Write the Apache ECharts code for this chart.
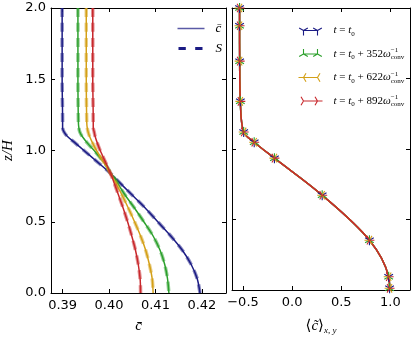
<!DOCTYPE html>
<html>
<head>
<meta charset="utf-8">
<script src="https://cdn.jsdelivr.net/npm/echarts@6/dist/echarts.min.js"></script>
<style>
html, body { margin: 0; background: #fff; }
#chart { width: 415px; height: 340px; }
</style>
</head>
<body>
<div id="chart"></div>
<script>
// heights z/H shared by the four mean profiles (left panel)
const zLevels  = [2.0, 1.5, 1.2, 1.16, 1.13, 1.1, 1.05, 1.0, 0.9, 0.84, 0.8, 0.7, 0.6, 0.5, 0.4, 0.3, 0.2, 0.1, 0.0];
const cBarT0   = [0.3899, 0.3899, 0.3900, 0.3900, 0.3903, 0.3910, 0.3928, 0.3946, 0.3982, 0.4003, 0.4015, 0.4046, 0.4077, 0.4105, 0.4133, 0.4158, 0.4177, 0.4190, 0.4196];
const cBarT352 = [0.3933, 0.3933, 0.3934, 0.3935, 0.3937, 0.3942, 0.3954, 0.3968, 0.3993, 0.4004, 0.4013, 0.4032, 0.4054, 0.4075, 0.4095, 0.4110, 0.4120, 0.4126, 0.4129];
const cBarT622 = [0.3951, 0.3951, 0.3952, 0.3953, 0.3955, 0.3958, 0.3965, 0.3973, 0.3992, 0.4003, 0.4010, 0.4026, 0.4041, 0.4055, 0.4068, 0.4079, 0.4087, 0.4093, 0.4095];
const cBarT892 = [0.3965, 0.3965, 0.3966, 0.3966, 0.3968, 0.3970, 0.3975, 0.3981, 0.3995, 0.4003, 0.4008, 0.4019, 0.4030, 0.4040, 0.4049, 0.4057, 0.4063, 0.4067, 0.4068];

// normalised profile <c~>_{x,y} (right panel), the four times lie on top of each other
const profileZ = [2.0, 1.874, 1.623, 1.338, 1.121, 1.048, 0.935, 0.672, 0.353, 0.094, 0.012];
const profileC = [-0.535, -0.535, -0.534, -0.527, -0.493, -0.386, -0.18, 0.306, 0.787, 0.983, 0.992];

const yTicks = [0, 0.5, 1.0, 1.5, 2.0];
const xTicksLeft = [0.39, 0.40, 0.41, 0.42];
const xTicksRight = [-0.5, 0.0, 0.5, 1.0];
const timeNames = ['t0', 't352', 't622', 't892'];
const timeShift = ['', '352', '622', '892'];

const colors = ['#1b1b84', '#2ca02c', '#d4a017', '#c8282c'];
const mathFont = '"Liberation Serif", "DejaVu Serif", serif';

const pairs = (xs, zs) => xs.map((x, i) => [x, zs[i]]);

// tri markers, bbox kept symmetric so the centre stays on the point
const box = 'M-10,-10L-10,-10M10,10L10,10';
const triMarks = [
  'path://M0,0L0,10M0,0L-8.66,-5M0,0L8.66,-5' + box,   // tri_down
  'path://M0,0L0,-10M0,0L-8.66,5M0,0L8.66,5' + box,    // tri_up
  'path://M0,0L-10,0M0,0L5,-8.66M0,0L5,8.66' + box,    // tri_left
  'path://M0,0L10,0M0,0L-5,-8.66M0,0L-5,8.66' + box    // tri_right
];
// legend handle: a line with a marker at each end
function triIcon(k) {
  let p = 'path://M0,0L0,0M24,10L24,10M5,5L19,5';
  [5, 19].forEach(cx => {
    if (k === 0) p += `M${cx},5L${cx},10M${cx},5L${cx - 4.33},2.5M${cx},5L${cx + 4.33},2.5`;
    if (k === 1) p += `M${cx},5L${cx},0M${cx},5L${cx - 4.33},7.5M${cx},5L${cx + 4.33},7.5`;
    if (k === 2) p += `M${cx},5L${cx - 5},5M${cx},5L${cx + 2.5},0.67M${cx},5L${cx + 2.5},9.33`;
    if (k === 3) p += `M${cx},5L${cx + 5},5M${cx},5L${cx - 2.5},0.67M${cx},5L${cx - 2.5},9.33`;
  });
  return p;
}

const frameAxis = {
  axisLine: { show: true, onZero: false, lineStyle: { color: '#000', width: 1 } },
  axisTick: { show: true, inside: true, length: 4, lineStyle: { color: '#000' } },
  splitLine: { show: false }
};
const tickLabel = { color: '#000', fontSize: 13, fontFamily: '"DejaVu Sans"' };

const xAxes = [
  // left panel
  Object.assign({}, frameAxis, {
    type: 'value', gridIndex: 0, position: 'bottom', min: 0.3875, max: 0.4252,
    axisTick: Object.assign({}, frameAxis.axisTick, { customValues: xTicksLeft }),
    axisLabel: Object.assign({}, tickLabel, { customValues: xTicksLeft, margin: 6, formatter: v => v.toFixed(2) }),
    name: 'c\u0304', nameLocation: 'middle', nameGap: 26,
    nameTextStyle: { fontFamily: mathFont, fontStyle: 'italic', fontSize: 15, color: '#000' }
  }),
  Object.assign({}, frameAxis, {
    type: 'value', gridIndex: 0, position: 'top', min: 0.3875, max: 0.4252,
    axisTick: Object.assign({}, frameAxis.axisTick, { customValues: xTicksLeft }),
    axisLabel: { show: false }
  }),
  // right panel
  Object.assign({}, frameAxis, {
    type: 'value', gridIndex: 1, position: 'bottom', min: -0.612, max: 1.2,
    axisTick: Object.assign({}, frameAxis.axisTick, { customValues: xTicksRight }),
    axisLabel: Object.assign({}, tickLabel, { customValues: xTicksRight, margin: 6,
      formatter: v => v.toFixed(1).replace('-', '\u2212') }),
    name: '{a|\u27e8}{c|c\u0303}{a|\u27e9}{b|x, y}', nameLocation: 'middle', nameGap: 27,
    nameTextStyle: {
      color: '#000',
      rich: {
        a: { fontFamily: mathFont, fontSize: 15, lineHeight: 18, color: '#000' },
        c: { fontFamily: mathFont, fontStyle: 'italic', fontSize: 15, lineHeight: 18, color: '#000' },
        b: { fontFamily: mathFont, fontStyle: 'italic', fontSize: 9, lineHeight: 9, verticalAlign: 'bottom', color: '#000' }
      }
    }
  }),
  Object.assign({}, frameAxis, {
    type: 'value', gridIndex: 1, position: 'top', min: -0.612, max: 1.2,
    axisTick: Object.assign({}, frameAxis.axisTick, { customValues: xTicksRight }),
    axisLabel: { show: false }
  })
];

const yAxes = [0, 1].flatMap(g => [
  Object.assign({}, frameAxis, {
    type: 'value', gridIndex: g, position: 'left', min: 0, max: 2,
    axisTick: Object.assign({}, frameAxis.axisTick, { customValues: yTicks }),
    axisLabel: g === 0
      ? Object.assign({}, tickLabel, { customValues: yTicks, margin: 5, formatter: v => v.toFixed(1) })
      : { show: false },
    name: g === 0 ? 'z/H' : '', nameLocation: 'middle', nameGap: 35, nameRotate: 90,
    nameTextStyle: { fontFamily: mathFont, fontStyle: 'italic', fontSize: 15, color: '#000' }
  }),
  Object.assign({}, frameAxis, {
    type: 'value', gridIndex: g, position: 'right', min: 0, max: 2,
    axisTick: Object.assign({}, frameAxis.axisTick, { customValues: yTicks }),
    axisLabel: { show: false }
  })
]);

const series = [];
[cBarT0, cBarT352, cBarT622, cBarT892].forEach((vals, k) => {
  series.push({
    type: 'line', name: k === 0 ? 'cbar' : 'cbar' + k, xAxisIndex: 0, yAxisIndex: 0,
    data: pairs(vals, zLevels), symbol: 'none', smooth: 0.3,
    lineStyle: { color: colors[k], width: 1.5 }
  });
  series.push({
    type: 'line', name: k === 0 ? 'S' : 'S' + k, xAxisIndex: 0, yAxisIndex: 0,
    data: pairs(vals, zLevels), symbol: 'none', smooth: 0.3,
    lineStyle: { color: colors[k], width: 3.5, type: [9, 6], opacity: 0.5 }
  });
});
timeNames.forEach((nm, k) => {
  series.push({
    type: 'line', name: nm, xAxisIndex: 2, yAxisIndex: 2,
    data: pairs(profileC, profileZ), smooth: 0.35,
    symbol: triMarks[k], symbolSize: 10, showSymbol: true,
    lineStyle: { color: colors[k], width: 1.5 },
    itemStyle: { color: 'none', borderColor: colors[k], borderWidth: 1.1 }
  });
});

const richMath = {
  i: { fontFamily: mathFont, fontStyle: 'italic', fontSize: 11, lineHeight: 14, color: '#000' },
  r: { fontFamily: mathFont, fontSize: 11, lineHeight: 14, color: '#000' },
  s: { fontFamily: mathFont, fontSize: 7, lineHeight: 7, verticalAlign: 'bottom', color: '#000' },
  // subscript stacked under the superscript (pulled back by the width of "-1")
  q: { fontFamily: mathFont, fontSize: 7, lineHeight: 7, verticalAlign: 'bottom', color: '#000', padding: [0, 0, 0, -7.5] },
  p: { fontFamily: mathFont, fontSize: 7, lineHeight: 7, verticalAlign: 'top', color: '#000' }
};

const option = {
  animation: false,
  backgroundColor: '#fff',
  grid: [
    { left: 48, top: 8, width: 178, height: 285 },
    { left: 232, top: 8, width: 178, height: 285 }
  ],
  xAxis: xAxes,
  yAxis: yAxes,
  legend: [
    {
      orient: 'vertical', left: 170, top: 17, itemWidth: 27, itemHeight: 8, itemGap: 7,
      selectedMode: false,
      data: [
        { name: 'cbar', icon: 'path://M0,0L0,0M27,8L27,8M0,4L27,4',
          itemStyle: { color: 'none', borderColor: '#5a5aa6', borderWidth: 1.5 } },
        { name: 'S', icon: 'path://M0,0L0,0M27,8L27,8M1,4L8.3,4M17.7,4L25,4',
          itemStyle: { color: 'none', borderColor: colors[0], borderWidth: 3 } }
      ],
      formatter: n => n === 'cbar' ? '{i|c\u0304}' : '{i|S}',
      textStyle: { padding: [0, 0, 0, 6], rich: {
        i: { fontFamily: mathFont, fontStyle: 'italic', fontSize: 13, color: '#000' } } }
    },
    {
      orient: 'vertical', left: 291, top: 18, itemWidth: 24, itemHeight: 10, itemGap: 8.5,
      selectedMode: false,
      data: timeNames.map((nm, k) => ({
        name: nm, icon: triIcon(k),
        itemStyle: { color: 'none', borderColor: colors[k], borderWidth: 1.1 }
      })),
      formatter: n => {
        const k = timeNames.indexOf(n);
        let s = '{i|t}{r| = }{i|t}{s|0}';
        if (k > 0) s += `{r| + ${timeShift[k]}}{i|\u03c9}{p|\u22121}{q|conv}`;
        return s;
      },
      textStyle: { padding: [0, 0, 0, 6], rich: richMath }
    }
  ],
  series: series
};

const chart = echarts.init(document.getElementById('chart'), null, { renderer: 'canvas' });
chart.setOption(option);
</script>
</body>
</html>
